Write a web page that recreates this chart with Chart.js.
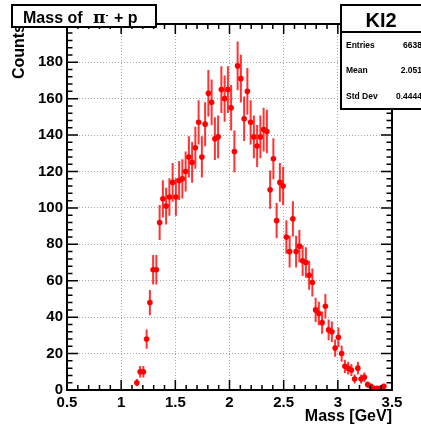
<!DOCTYPE html>
<html>
<head>
<meta charset="utf-8">
<script src="https://cdn.jsdelivr.net/npm/chart.js@4.4.1/dist/chart.umd.min.js"></script>
<style>
  body { margin: 0; background: #fff; }
  canvas { display: block; }
</style>
</head>
<body>
<canvas id="myChart" width="421" height="426"></canvas>
<script>
// histogram KI2 : 0.03 GeV bins, only the filled ones
const binCenters = [
  1.145, 1.175, 1.205, 1.235, 1.265, 1.295, 1.325, 1.355, 1.385, 1.415,
  1.445, 1.475, 1.505, 1.535, 1.565, 1.595, 1.625, 1.655, 1.685, 1.715,
  1.745, 1.775, 1.805, 1.835, 1.865, 1.895, 1.925, 1.955, 1.985, 2.015,
  2.045, 2.075, 2.105, 2.135, 2.165, 2.195, 2.225, 2.255, 2.285, 2.315,
  2.345, 2.375, 2.405, 2.435, 2.465, 2.495, 2.525, 2.555, 2.585, 2.615,
  2.645, 2.675, 2.705, 2.735, 2.765, 2.795, 2.825, 2.855, 2.885, 2.915,
  2.945, 2.975, 3.005, 3.035, 3.065, 3.095, 3.125, 3.155, 3.185, 3.215,
  3.245, 3.275, 3.305, 3.335, 3.365, 3.395, 3.425
];
const counts = [
  4, 10, 10, 28, 48, 66, 66, 92, 105, 101,
  106, 114, 106, 115, 116, 120, 128, 125, 133, 147,
  128, 146, 163, 158, 138, 139, 165, 160, 165, 155,
  131, 178, 171, 149, 164, 147, 139, 134, 139, 143,
  142, 110, 127, 93, 114, 112, 84, 76, 94, 76,
  79, 71, 70, 63, 59, 44, 42, 37, 46, 33,
  32, 23, 29, 20, 13, 12, 11, 6, 12, 6,
  7, 3, 2, 1, 1, 1, 2
];
const binWidth = 0.03;
const xTicks = [0.5, 1, 1.5, 2, 2.5, 3, 3.5];
const yTicks = [0, 20, 40, 60, 80, 100, 120, 140, 160, 180];
const statsLabels = ['Entries', 'Mean', 'Std Dev'];
const statsValues = ['6638', '2.051', '0.4444'];

const FONT = "'Liberation Sans', Arial, Helvetica, sans-serif";
const RED = '#ff0000';

const rootStyle = {
  id: 'rootStyle',
  beforeDatasetsDraw(chart) {
    // poisson error bars
    const { ctx, chartArea, scales: { x, y } } = chart;
    ctx.save();
    ctx.beginPath();
    ctx.rect(chartArea.left, chartArea.top, chartArea.width, chartArea.height);
    ctx.clip();
    ctx.strokeStyle = 'rgba(255,0,0,0.8)';
    ctx.lineWidth = 2;
    for (let i = 0; i < binCenters.length; i++) {
      const err = Math.sqrt(counts[i]);
      const px = x.getPixelForValue(binCenters[i]);
      const py = y.getPixelForValue(counts[i]);
      ctx.beginPath();
      ctx.moveTo(px, y.getPixelForValue(Math.max(0, counts[i] - err)));
      ctx.lineTo(px, y.getPixelForValue(counts[i] + err));
      ctx.moveTo(x.getPixelForValue(binCenters[i] - binWidth / 2), py);
      ctx.lineTo(x.getPixelForValue(binCenters[i] + binWidth / 2), py);
      ctx.stroke();
    }
    ctx.restore();
  },
  afterDatasetsDraw(chart) {
    // frame + root style ticks on all four sides
    const { ctx, chartArea, scales: { x, y } } = chart;
    const { left, right, top, bottom } = chartArea;
    ctx.save();
    ctx.strokeStyle = '#000';
    ctx.lineWidth = 1.5;
    ctx.beginPath();
    for (let i = 0; i <= 30; i++) {
      const len = i % 5 === 0 ? 10 : 5;
      const px = x.getPixelForValue(0.5 + i * 0.1);
      ctx.moveTo(px, bottom); ctx.lineTo(px, bottom - len);
      ctx.moveTo(px, top); ctx.lineTo(px, top + len);
    }
    for (let v = 0; v < y.max; v += 4) {
      const len = v % 20 === 0 ? 11 : 5.5;
      const py = y.getPixelForValue(v);
      ctx.moveTo(left, py); ctx.lineTo(left + len, py);
      ctx.moveTo(right, py); ctx.lineTo(right - len, py);
    }
    ctx.stroke();
    ctx.lineWidth = 2;
    ctx.strokeRect(left, top, right - left, bottom - top);
    ctx.restore();
  },
  afterDraw(chart) {
    const ctx = chart.ctx;
    ctx.save();
    // title box
    ctx.fillStyle = '#fff';
    ctx.fillRect(12, 5, 144, 22);
    ctx.strokeStyle = '#000';
    ctx.lineWidth = 2;
    ctx.strokeRect(12, 5, 144, 22);
    ctx.fillStyle = '#000';
    ctx.textBaseline = 'alphabetic';
    ctx.textAlign = 'left';
    ctx.font = 'bold 16px ' + FONT;
    ctx.fillText('Mass of', 23, 23);
    ctx.font = "bold 17px 'DejaVu Serif', 'Liberation Serif', serif";
    ctx.fillText('π', 93, 23);
    ctx.font = 'bold 9px ' + FONT;
    ctx.fillText('-', 105.5, 17.5);
    ctx.font = 'bold 16px ' + FONT;
    ctx.fillText('+ p', 114, 23);

    // stats box
    ctx.fillStyle = '#fff';
    ctx.fillRect(341, 5, 90, 104);
    ctx.strokeRect(341, 5, 90, 104);
    ctx.beginPath();
    ctx.moveTo(341, 32); ctx.lineTo(431, 32);
    ctx.stroke();
    ctx.fillStyle = '#000';
    ctx.textAlign = 'center';
    ctx.font = 'bold 20px ' + FONT;
    ctx.fillText('KI2', 381, 27);
    ctx.font = 'bold 8.5px ' + FONT;
    ctx.textBaseline = 'middle';
    statsLabels.forEach((lab, i) => {
      const yy = 45.5 + i * 25.5;
      ctx.textAlign = 'left';
      ctx.fillText(lab, 346, yy);
      ctx.textAlign = 'right';
      ctx.fillText(statsValues[i], 422, yy);
    });
    ctx.restore();
  }
};

let ctx = document.getElementById('myChart').getContext('2d');

new Chart(ctx, {
  type: 'scatter',
  data: {
    datasets: [{
      data: binCenters.map((v, i) => ({ x: v, y: counts[i] })),
      pointRadius: 2.8,
      pointBackgroundColor: RED,
      pointBorderWidth: 0,
      showLine: false
    }]
  },
  options: {
    responsive: false,
    animation: false,
    devicePixelRatio: 1,
    layout: { padding: { top: 24, right: 29, left: 0, bottom: 0 } },
    plugins: {
      legend: { display: false },
      tooltip: { enabled: false }
    },
    scales: {
      x: {
        type: 'linear',
        min: 0.5,
        max: 3.5,
        afterFit: s => { s.height = 36; },
        afterBuildTicks: s => { s.ticks = xTicks.map(v => ({ value: v })); },
        ticks: {
          padding: 4,
          color: '#000',
          maxRotation: 0,
          autoSkip: false,
          font: { family: FONT, size: 15, weight: 'bold' },
          callback: v => String(v)
        },
        grid: { color: '#a8a8a8', drawTicks: false },
        border: { display: false, dash: [1, 2] },
        title: {
          display: true,
          text: 'Mass [GeV]',
          align: 'end',
          color: '#000',
          font: { family: FONT, size: 16, weight: 'bold' },
          padding: { top: 0, bottom: 0 }
        }
      },
      y: {
        type: 'linear',
        min: 0,
        max: 201,
        afterFit: s => { s.width = 67; },
        afterBuildTicks: s => { s.ticks = yTicks.map(v => ({ value: v })); },
        ticks: {
          padding: 4,
          color: '#000',
          autoSkip: false,
          font: { family: FONT, size: 15, weight: 'bold' },
          callback: v => String(v)
        },
        grid: { color: '#a8a8a8', drawTicks: false },
        border: { display: false, dash: [1, 2] },
        title: {
          display: true,
          text: 'Counts',
          align: 'end',
          color: '#000',
          font: { family: FONT, size: 16, weight: 'bold' },
          padding: { top: 10, bottom: 0 }
        }
      }
    }
  },
  plugins: [rootStyle]
});
</script>
</body>
</html>
